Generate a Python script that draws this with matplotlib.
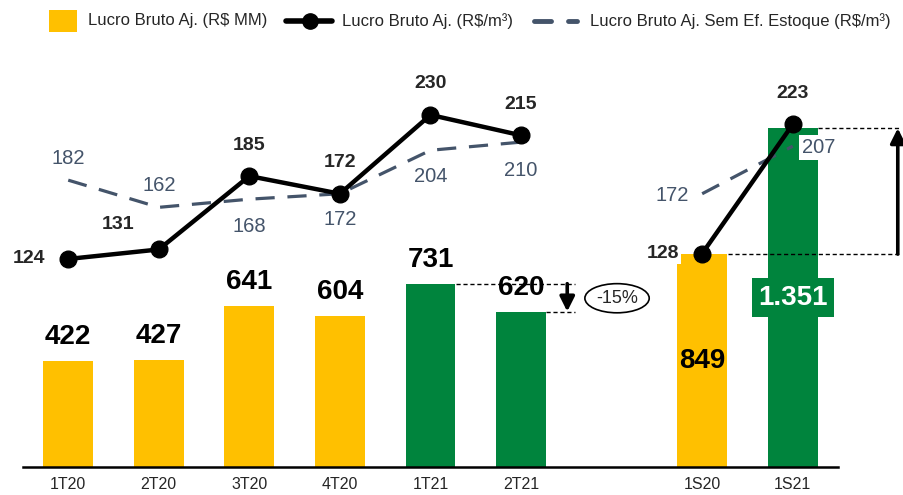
import matplotlib
matplotlib.use("Agg")
import matplotlib.pyplot as plt
from matplotlib.lines import Line2D
from matplotlib.patches import Rectangle

plt.rcParams["font.family"] = ["Liberation Sans", "DejaVu Sans"]

categories = ["1T20", "2T20", "3T20", "4T20", "1T21", "2T21", "1S20", "1S21"]
xpos = [0, 1, 2, 3, 4, 5, 7, 8]
bar_values = [422, 427, 641, 604, 731, 620, 849, 1351]
bar_labels = ["422", "427", "641", "604", "731", "620", "849", "1.351"]
bar_colors = ["#FFC000", "#FFC000", "#FFC000", "#FFC000", "#00843D", "#00843D", "#FFC000", "#00843D"]
lucro_m3 = [124, 131, 185, 172, 230, 215, 128, 223]
sem_estoque = [182, 162, 168, 172, 204, 210, 172, 207]
legend_labels = ["Lucro Bruto Aj. (R$ MM)", "Lucro Bruto Aj. (R$/m³)",
                 "Lucro Bruto Aj. Sem Ef. Estoque (R$/m³)"]

YEL = "#FFC000"
GRN = "#00843D"
SLATE = "#44546A"
DARK = "#262626"

W, H = 904, 495
fig = plt.figure(figsize=(W / 100, H / 100), dpi=100)
ax = fig.add_axes([0.0254, 0.0566, 0.9016, 0.8586])
ax2 = ax.twinx()

ax.bar(xpos, bar_values, width=0.55, color=bar_colors, zorder=2)
ax.set_xlim(-0.5, 8.5)
ax.set_ylim(0, 1695)
ax2.set_ylim(-29.1, 283.7)

for a in (ax, ax2):
    for s in ("top", "right", "left"):
        a.spines[s].set_visible(False)
    a.set_yticks([])
ax.spines["bottom"].set_linewidth(1.8)
ax.spines["bottom"].set_color("black")
ax2.spines["bottom"].set_visible(False)
ax.set_xticks(xpos)
ax.set_xticklabels(categories, fontsize=11.5, color=DARK)
ax.tick_params(axis="x", length=0, pad=7)

# bar labels
for i, (x, v, lab) in enumerate(zip(xpos, bar_values, bar_labels)):
    if i < 6:
        ax.annotate(lab, (x, v), xytext=(0, 24), textcoords="offset pixels",
                    ha="center", va="center", fontsize=20, fontweight="bold", color="black", zorder=5)
    elif i == 6:
        ax.text(x, v / 2, lab, ha="center", va="center", fontsize=20,
                fontweight="bold", color="black", zorder=5)
    else:
        ax.text(x, v / 2, lab, ha="center", va="center", fontsize=20,
                fontweight="bold", color="white", zorder=5,
                bbox=dict(boxstyle="square,pad=0.22", fc=GRN, ec="none"))

# lines
ax2.plot(xpos[:6], sem_estoque[:6], color=SLATE, lw=2.3, dashes=(6, 4), zorder=3)
ax2.plot(xpos[6:], sem_estoque[6:], color=SLATE, lw=2.3, dashes=(6, 4), zorder=3)
ax2.plot(xpos[:6], lucro_m3[:6], color="black", lw=3.2, marker="o", markersize=12, zorder=4)
ax2.plot(xpos[6:], lucro_m3[6:], color="black", lw=3.2, marker="o", markersize=12, zorder=4)

solid_off = [(-39, 0), (-41, 25), (0, 31), (0, 31), (0, 31), (0, 31), (-39, 0), (0, 31)]
for i, (x, v, off) in enumerate(zip(xpos, lucro_m3, solid_off)):
    kw = {}
    if i == 6:
        kw["bbox"] = dict(boxstyle="square,pad=0.1", fc="white", ec="none")
    ax2.annotate(str(v), (x, v), xytext=off, textcoords="offset pixels", ha="center",
                 va="center", fontsize=14, fontweight="bold", color=DARK, zorder=3.5, **kw)

dash_off = [(0, 22), (0, 22), (0, -27), (0, -26), (0, -26), (0, -28), (-30, -2), (26, -1)]
for i, (x, v, off) in enumerate(zip(xpos, sem_estoque, dash_off)):
    kw = {}
    if i == 7:
        kw["bbox"] = dict(boxstyle="square,pad=0.15", fc="white", ec="none")
    ax2.annotate(str(v), (x, v), xytext=off, textcoords="offset pixels", ha="center",
                 va="center", fontsize=14.5, color=SLATE, zorder=6, **kw)

# -15% annotation
ax.plot([4.28, 5.6], [731, 731], color="black", lw=1, dashes=(3, 2), zorder=3, clip_on=False)
ax.plot([5.28, 5.6], [620, 620], color="black", lw=1, dashes=(3, 2), zorder=3, clip_on=False)
ax.annotate("", xy=(5.51, 620), xytext=(5.51, 731),
            arrowprops=dict(arrowstyle="-|>", lw=2.6, color="black", mutation_scale=22,
                            shrinkA=0, shrinkB=0), zorder=4)
ax.text(6.06, 673, "-15%", ha="center", va="center", fontsize=13, color=DARK,
        bbox=dict(boxstyle="ellipse,pad=0.1", fc="white", ec="black", lw=1.2), zorder=5)

# semester annotation
ax.plot([7.28, 9.19], [849, 849], color="black", lw=1, dashes=(3, 2), zorder=3, clip_on=False)
ax.plot([8.28, 9.19], [1351, 1351], color="black", lw=1, dashes=(3, 2), zorder=3, clip_on=False)
ax.annotate("", xy=(9.16, 1351), xytext=(9.16, 849),
            arrowprops=dict(arrowstyle="-|>", lw=2.6, color="black", mutation_scale=22,
                            shrinkA=0, shrinkB=0), zorder=4, annotation_clip=False)

# legend (drawn in figure pixel positions)
def fx(px):
    return px / W

def fy(py):
    return 1 - py / H

ly = 21
fig.patches.append(Rectangle((fx(49), fy(32)), fx(77) - fx(49), fy(10) - fy(32),
                             transform=fig.transFigure, fc=YEL, ec="none"))
fig.lines.append(Line2D([fx(286), fx(332)], [fy(ly), fy(ly)], transform=fig.transFigure,
                        color="black", lw=4, solid_capstyle="round"))
fig.lines.append(Line2D([fx(310)], [fy(ly)], transform=fig.transFigure, color="black",
                        marker="o", markersize=11, lw=0))
fig.lines.append(Line2D([fx(534), fx(577)], [fy(ly), fy(ly)], transform=fig.transFigure,
                        color=SLATE, lw=3.5, dashes=(3.5, 3.5), solid_capstyle="round",
                        dash_capstyle="round"))
for x0, lab in zip([88, 342, 590], legend_labels):
    fig.text(fx(x0), fy(ly), lab, ha="left", va="center", fontsize=12, color=DARK)

fig.savefig("out.png", dpi=100)
